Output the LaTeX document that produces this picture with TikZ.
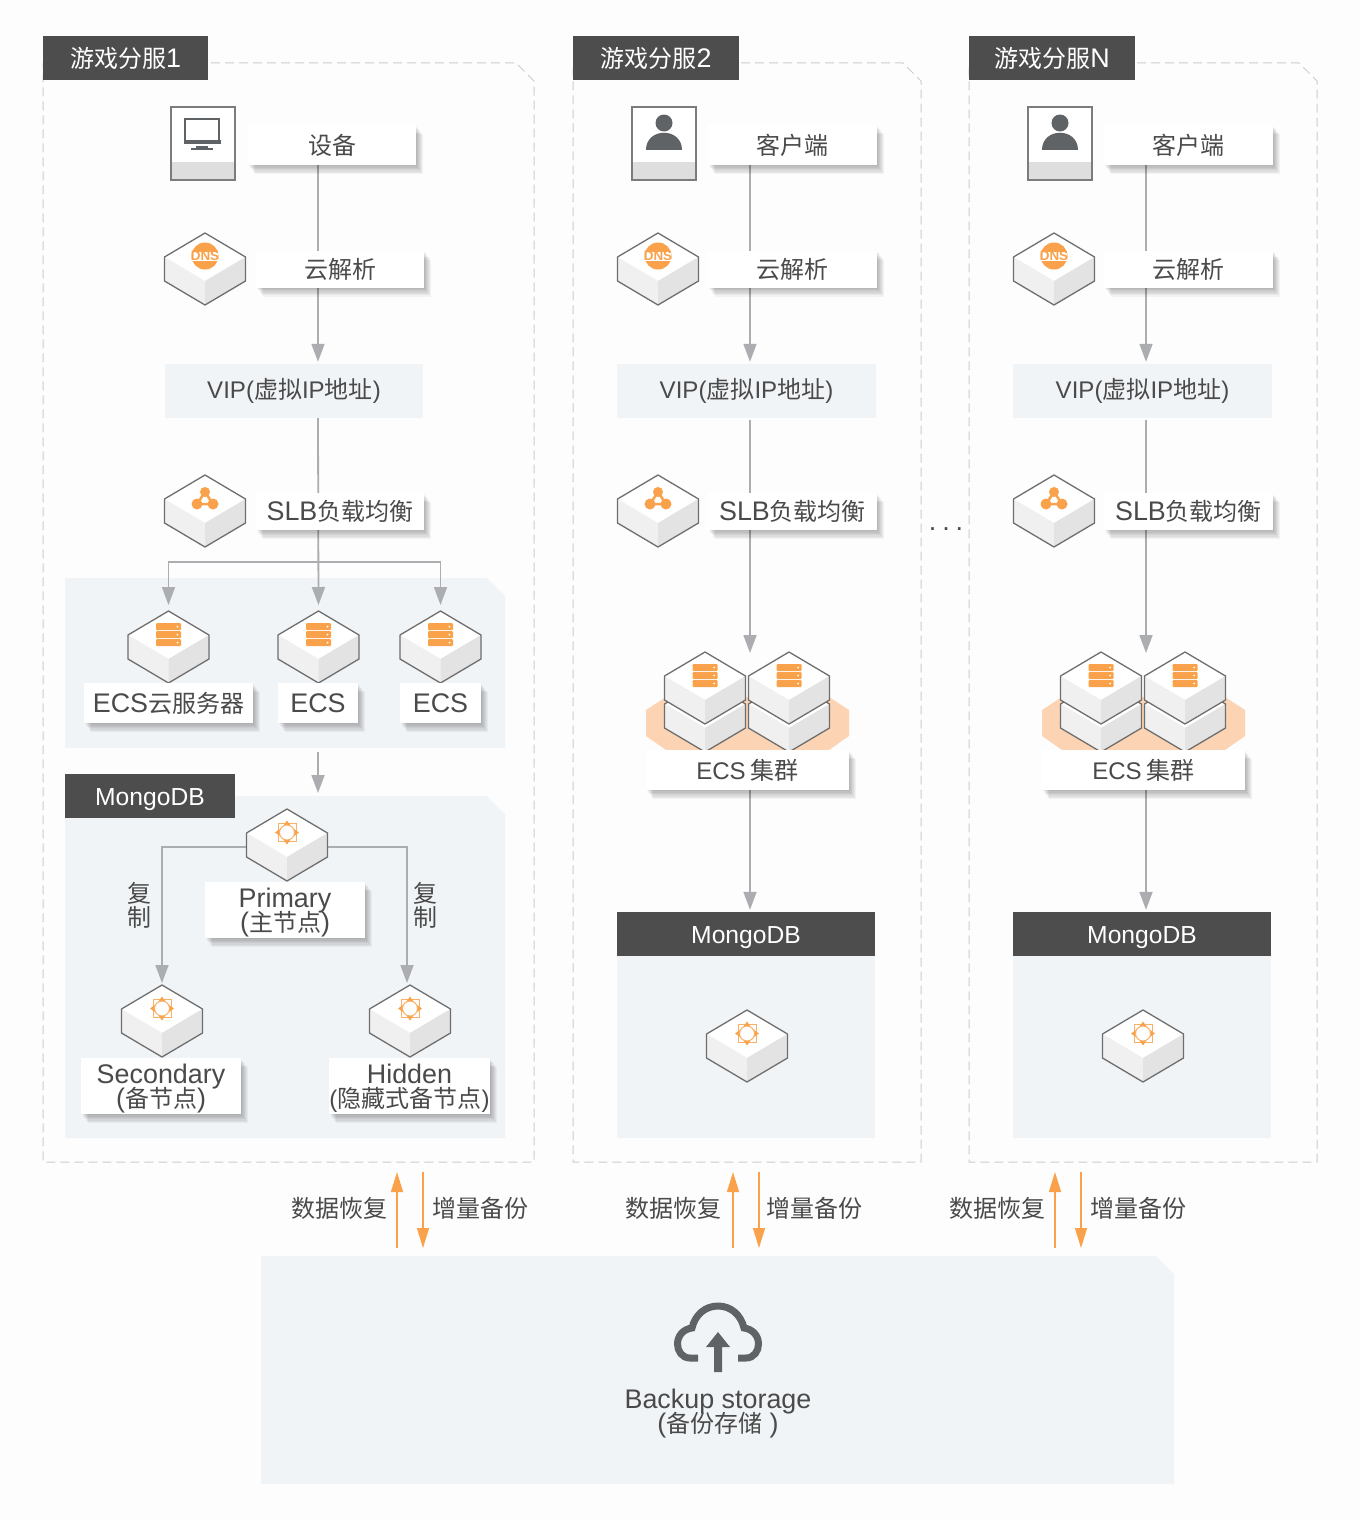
\documentclass[tikz,border=0pt]{standalone}
\usepackage{fontspec}
\setmainfont{Noto Sans CJK SC}
\newfontfamily\latf[Scale=1.12]{Liberation Sans}
\newcommand{\la}[1]{{\latf #1}}
\newcommand{\lb}[1]{{\fontsize{21.5}{24}\latf #1}}
\newcommand{\txtfont}{\fontsize{24}{24}\selectfont\lineskiplimit=-100pt\relax}
\usetikzlibrary{arrows.meta,shadows}
\pgfdeclarelayer{panel}
\pgfdeclarelayer{wire}
\pgfsetlayers{panel,wire,main}
\definecolor{pagebg}{HTML}{FDFDFD}
\definecolor{panelbg}{HTML}{F1F4F7}
\definecolor{darkbar}{HTML}{4D4D4D}
\definecolor{inktxt}{HTML}{4A4A4A}
\definecolor{wiregray}{HTML}{ABADB0}
\definecolor{edgegray}{HTML}{6E6E6E}
\definecolor{iconorange}{HTML}{F9A24B}
\definecolor{hexorange}{HTML}{FDD4B3}
\definecolor{cloudgray}{HTML}{5F6366}
% cut corner box
\newcommand{\cutbox}[5][]{\path[#1] (#2,#3) -- (#4-18,#3) -- (#4,#3+18) -- (#4,#5) -- (#2,#5) -- cycle;}
\tikzset{
    txt/.style={text=inktxt,inner sep=0pt,align=center,font=\txtfont},
    softshadow/.style={general shadow={shadow xshift=#1pt,shadow yshift=-1.3*#1pt,opacity=.045,fill=black}},
    labelbox/.style={txt,fill=white,softshadow=7,softshadow=6,softshadow=5,softshadow=4,softshadow=3,softshadow=2,softshadow=1},
    twoline/.style={labelbox,minimum height=56,text height=49pt,text depth=6pt},
    vipbox/.style={txt,fill=panelbg,minimum width=259,minimum height=54},
    headbar/.style={txt,fill=darkbar,text=white,minimum height=44},
    dbbar/.style={headbar,font=\fontsize{22}{22}\selectfont,text height=22pt,text depth=4pt},
    conn/.style={draw=wiregray,line width=1.8pt,-{Triangle[width=13pt,length=18pt]},shorten >=2pt},
    connfork/.style={conn,shorten >=6pt},
    orangeup/.style={draw=iconorange,line width=1.5pt,-{Triangle[width=12pt,length=20pt]}},
    frameline/.style={draw=black!20,line width=1pt,dash pattern=on 9pt off 5pt},
    pics/cube/.style={code={
        \coordinate (-top) at (0,0);
        \coordinate (-left) at (-40.5,38);
        \coordinate (-right) at (40.5,38);
        \fill[white] (0,0) -- (40.5,24) -- (0,48) -- (-40.5,24) -- cycle;
        \fill[black!6] (-40.5,24) -- (0,48) -- (0,72) -- (-40.5,48) -- cycle;
        \fill[black!11] (40.5,24) -- (0,48) -- (0,72) -- (40.5,48) -- cycle;
        \draw[edgegray,line width=1.3pt,line join=round] (0,0) -- (40.5,24) -- (40.5,48) -- (0,72) -- (-40.5,48) -- (-40.5,24) -- cycle;
        \pic {#1};
    }},
    pics/noicon/.style={code={}},
    pics/dnsicon/.style={code={
        \fill[iconorange] (0,23) circle[radius=13.5];
        \fill[white] (-13,18.5) rectangle (13,27.5);
        \node[inner sep=0pt,text=iconorange,font=\fontsize{12}{12}\bfseries\selectfont] (-dns) at (0,23) {\la{DNS}};
    }},
    pics/slbicon/.style={code={
        \draw[iconorange,line width=2.5pt] (0,17) -- (-8,29) -- (8,29) -- cycle;
        \fill[iconorange] (0,17) circle[radius=5];
        \fill[iconorange] (-8,29) circle[radius=5.5];
        \fill[iconorange] (8,29) circle[radius=5.5];
    }},
    pics/srvicon/.style={code={
        \foreach \yy in {12,20,28} {
            \fill[iconorange,rounded corners=1pt] (-12.5,\yy) rectangle (12.5,\yy+7);
            \fill[white] (9,\yy+3.5) circle[radius=1];
        }
    }},
    pics/dbicon/.style={code={
        \draw[iconorange!85,line width=1pt] (-9,14.5) rectangle (9,32.5);
        \fill[iconorange] (0,11.5) -- (3.5,16.5) -- (-3.5,16.5) -- cycle;
        \fill[iconorange] (0,35.5) -- (3.5,30.5) -- (-3.5,30.5) -- cycle;
        \fill[iconorange] (-12,23.5) -- (-7,20) -- (-7,27) -- cycle;
        \fill[iconorange] (12,23.5) -- (7,20) -- (7,27) -- cycle;
        \draw[iconorange!85,fill=white,line width=1pt] (0,23.5) circle[radius=7.5];
    }},
    pics/termbox/.style={code={
        \fill[white] (0,0) rectangle (64,73);
        \fill[black!13] (0,55) rectangle (64,73);
        \draw[edgegray!90,line width=1.3pt] (0,0) rectangle (64,73);
        \pic {#1};
    }},
    pics/deskicon/.style={code={
        \draw[cloudgray,line width=2.2pt] (14,12) rectangle (48,34);
        \fill[cloudgray] (12.5,33) rectangle (49.5,37);
        \fill[cloudgray] (25,39) rectangle (37,41);
        \fill[cloudgray] (20,41) rectangle (42,43);
    }},
    pics/usericon/.style={code={
        \fill[cloudgray] (32,16) circle[radius=8.5];
        \fill[cloudgray] (14,43) .. controls (14,20) and (50,20) .. (50,43) -- cycle;
    }},
}
\begin{document}
\begin{tikzpicture}[x=1pt,y=-1pt]
    \useasboundingbox (0,0) rectangle (1360,1520);
    \begin{pgfonlayer}{panel}
        \fill[pagebg] (0,0) rectangle (1360,1520);
        \cutbox[frameline]{43}{63}{534}{1162}
        \cutbox[frameline]{573}{63}{921}{1162}
        \cutbox[frameline]{969}{63}{1317}{1162}
        \cutbox[fill=panelbg]{65}{578}{505}{748}
        \cutbox[fill=panelbg]{65}{796}{505}{1138}
        \cutbox[fill=panelbg]{261}{1256}{1174}{1484}
    \end{pgfonlayer}

    % column 1
    \node[headbar,minimum width=165] (head1) at (125.5,58) {游戏分服\la{1}};
    \pic at (171,107) {termbox=deskicon};
    \node[labelbox,minimum width=168,minimum height=40] (dev1) at (332,145) {设备};
    \pic at (205,233) {cube=dnsicon};
    \node[labelbox,minimum width=168,minimum height=37] (dns1) at (340,269) {云解析};
    \node[vipbox,minimum width=258] (vip1) at (294,391) {\lb{VIP(}虚拟\lb{IP}地址\lb{)}};
    \pic at (205,475) {cube=slbicon};
    \node[labelbox,minimum width=168,minimum height=37] (slb1) at (340,511.5) {\la{SLB}负载均衡};
    \coordinate (tr1) at (318,0);
    \coordinate (fork1) at (318,562);
    \pic (ecsa) at (168.5,611) {cube=srvicon};
    \pic (ecsb) at (318.5,611) {cube=srvicon};
    \pic (ecsc) at (440.5,611) {cube=srvicon};
    \node[labelbox,minimum width=169,minimum height=40] (ecsl1) at (168.5,703) {\la{ECS}云服务器};
    \node[labelbox,minimum width=80,minimum height=40] (ecsl2) at (318,703) {\la{ECS}};
    \node[labelbox,minimum width=81,minimum height=40] (ecsl3) at (440.5,703) {\la{ECS}};
    \coordinate (ecsout) at (318,752);
    \coordinate (dbin) at (318,795);
    \node[dbbar,minimum width=170] (dbhead1) at (150,796) {\la{MongoDB}};
    \pic (prim) at (287,809) {cube=dbicon};
    \node[twoline,minimum width=160] (priml) at (285,910) {\la{Primary}\\\la{(}主节点\la{)}};
    \pic (seco) at (162,985) {cube=dbicon};
    \node[twoline,minimum width=160] (secol) at (161,1086) {\la{Secondary}\\\la{(}备节点\la{)}};
    \pic (hide) at (410,985) {cube=dbicon};
    \coordinate (hidein) at (407,985);
    \node[twoline,minimum width=161] (hidel) at (409.5,1086) {\la{Hidden}\\\lb{(}隐藏式备节点\lb{)}};
    \node[txt] (repl1) at (139,905.5) {复\\制};
    \node[txt] (repl2) at (425,905.5) {复\\制};
    \begin{pgfonlayer}{wire}
        \draw[conn] (tr1 |- dev1.south) -- (tr1 |- vip1.north);
        \draw[connfork] (tr1 |- vip1.south) -- (ecsb-top);
        \draw[connfork] (fork1) -| (ecsa-top);
        \draw[connfork] (fork1) -| (ecsc-top);
        \draw[conn] (ecsout) -- (dbin);
        \draw[conn] (prim-left) -| (seco-top);
        \draw[conn] (prim-right) -| (hidein);
    \end{pgfonlayer}

    % column 2 and N
    \foreach \c/\dx/\n in {2/0/2,3/396/N} {
        \begin{scope}[xshift=\dx pt]
            \node[headbar,minimum width=166] (head\c) at (656,58) {游戏分服\la{\n}};
            \pic at (632,107) {termbox=usericon};
            \node[labelbox,minimum width=169,minimum height=40] (dev\c) at (792.5,145) {客户端};
            \pic at (658,233) {cube=dnsicon};
            \node[labelbox,minimum width=169,minimum height=37] (dns\c) at (792.5,269) {云解析};
            \node[vipbox] (vip\c) at (746.5,391) {\lb{VIP(}虚拟\lb{IP}地址\lb{)}};
            \pic at (658,475) {cube=slbicon};
            \node[labelbox,minimum width=169,minimum height=37] (slb\c) at (792.5,511.5) {\la{SLB}负载均衡};
            \coordinate (tr\c) at (750,0);
            \coordinate (vipout\c) at (750,420);
            \coordinate (clu\c) at (750,655);
            \fill[hexorange] (666,697) -- (829,697) -- (849,710) -- (849,736) -- (829,750) -- (666,750) -- (646,736) -- (646,710) -- cycle;
            \pic at (705,680) {cube=noicon};
            \pic at (789,680) {cube=noicon};
            \pic at (705,652) {cube=srvicon};
            \pic at (789,652) {cube=srvicon};
            \node[labelbox,minimum width=203,minimum height=40] (clul\c) at (747.5,770) {\lb{ECS}\hspace{5pt}集群};
            \node[dbbar,minimum width=258] (dbhead\c) at (746,934) {\la{MongoDB}};
            \pic at (747,1010) {cube=dbicon};
            \begin{pgfonlayer}{panel}
                \fill[panelbg] (617,956) rectangle (875,1138);
            \end{pgfonlayer}
            \begin{pgfonlayer}{wire}
                \draw[conn] (tr\c |- dev\c.south) -- (tr\c |- vip\c.north);
                \draw[conn] (vipout\c) -- (clu\c);
                \draw[conn] (tr\c |- clul\c.south) -- (tr\c |- dbhead\c.north);
            \end{pgfonlayer}
        \end{scope}
    }

    \node[txt,anchor=base] (more) at (946,530) {\la{.\hspace{6pt}.\hspace{6pt}.}};

    % backup arrows
    \foreach \i/\u/\d/\lx/\rx in {1/397/423/339/480,2/733/759/673/814,3/1055/1081/997/1138} {
        \coordinate (ua\i) at (\u,1248);
        \coordinate (ub\i) at (\u,1172);
        \coordinate (da\i) at (\d,1172);
        \coordinate (db\i) at (\d,1248);
        \draw[orangeup] (ua\i) -- (ub\i);
        \draw[orangeup] (da\i) -- (db\i);
        \node[txt] (restore\i) at (\lx,1208) {数据恢复};
        \node[txt] (incr\i) at (\rx,1208) {增量备份};
    }

    % cloud
    \draw[cloudgray,line width=7pt] (698,1358) -- (690,1358) .. controls (682,1358) and (677.5,1351) .. (677.5,1344) .. controls (677.5,1335) and (684,1329) .. (692,1328) .. controls (695,1315) and (705,1306) .. (718,1306) .. controls (731,1306) and (741,1315) .. (744,1328) .. controls (752,1329) and (758.5,1335) .. (758.5,1344) .. controls (758.5,1351) and (754,1358) .. (746,1358) -- (738,1358);
    \fill[cloudgray] (718,1332) -- (730,1347) -- (722,1347) -- (722,1372) -- (714,1372) -- (714,1347) -- (706,1347) -- cycle;
    \node[txt] (backup) at (718,1414) {\la{Backup storage}\\\la{(}备份存储\la{ )}};
\end{tikzpicture}
\end{document}
